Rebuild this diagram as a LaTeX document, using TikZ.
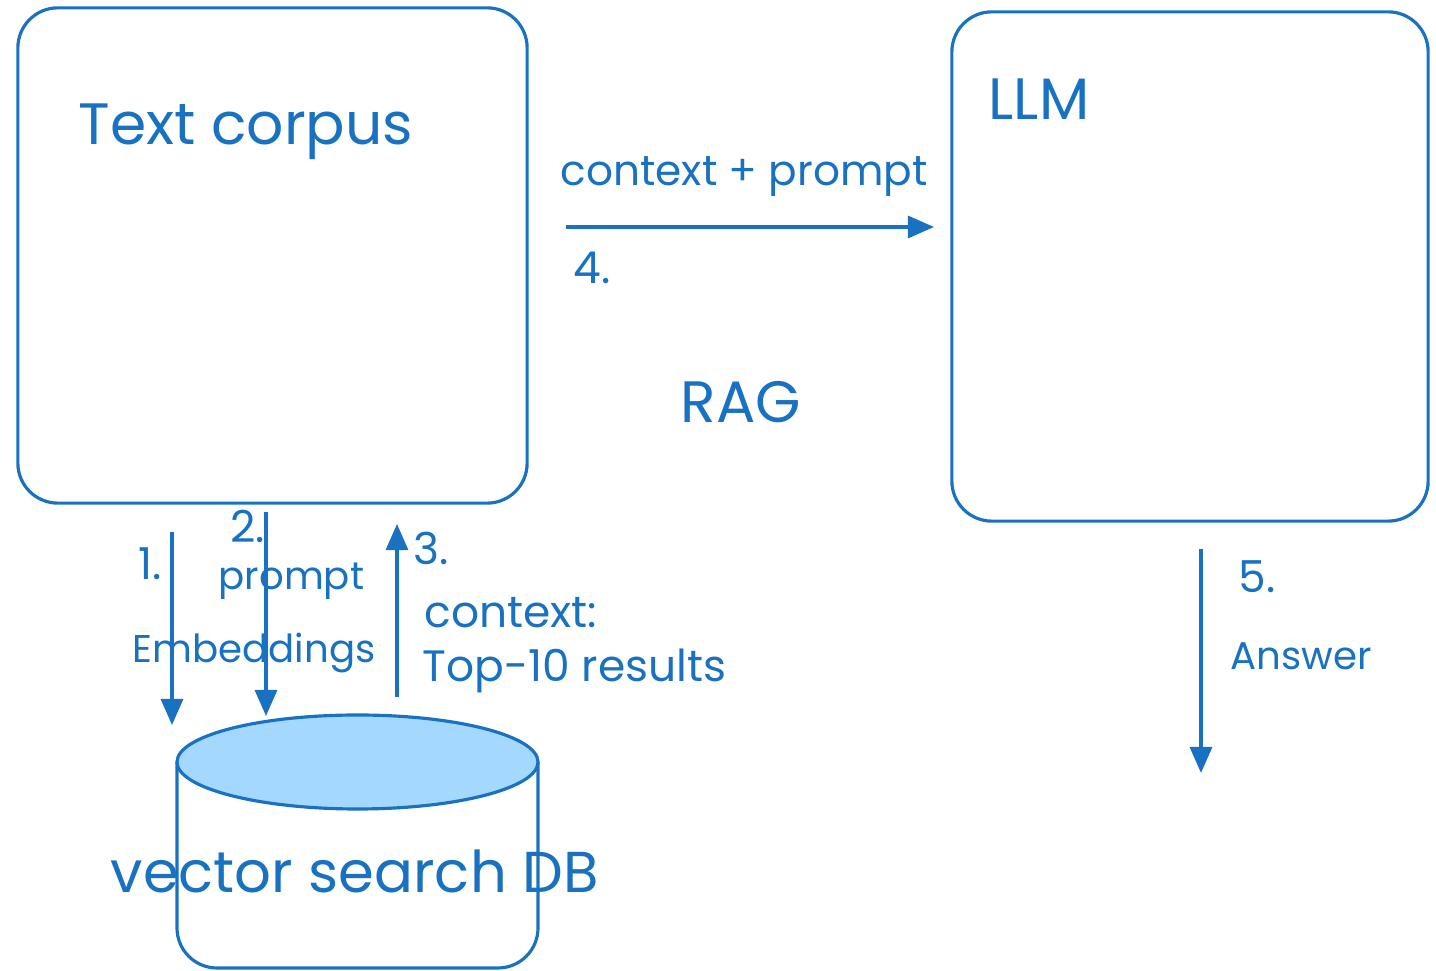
\documentclass[tikz,border=0pt]{standalone}
\usepackage{fontspec}
\setmainfont{Poppins}
\usetikzlibrary{positioning,arrows.meta}
\definecolor{sketchblue}{HTML}{1971C2}
\definecolor{dbfill}{HTML}{A5D8FF}

\begin{document}
\begin{tikzpicture}[
    x=0.01cm, y=-0.01cm,
    box/.style={
        rectangle, rounded corners=4mm,
        draw=sketchblue, line width=0.9pt
    },
    flow/.style={-{Triangle[length=2.6mm,width=2.2mm]}, sketchblue, line width=0.9pt},
    lbl/.style={text=sketchblue, inner sep=0pt, anchor=base west,
        font=\fontsize{12.5}{15}\selectfont},
    small/.style={font=\fontsize{11}{13}\selectfont},
    title/.style={text=sketchblue, inner sep=0pt, anchor=base west,
        font=\fontsize{16.6}{20}\selectfont}
]
\useasboundingbox (0,0) rectangle (1436,971);

% Boxes
\node[box, minimum width=5.09cm, minimum height=4.95cm] (corpus) at (272.5,255.5) {};
\node[box, minimum width=4.76cm, minimum height=5.09cm] (llm) at (1190,266.5) {};
\node[title] (corpustitle) at (78,145) {Text corpus};
\node[title] (llmtitle) at (988,120) {LLM};

% Vector DB
\draw[sketchblue, line width=0.9pt, rounded corners=4mm]
    (177,762) -- (177,968) -- (538,968) -- (538,762);
\draw[sketchblue, line width=0.9pt, fill=dbfill]
    (357.5,762) ellipse [x radius=180.5, y radius=47];
\node[title, font=\fontsize{16.4}{20}\selectfont] (db) at (110,893) {vector search DB};

\node[title] (rag) at (680,423) {RAG};

% Arrow ends
\coordinate (e1s) at (172,532);
\coordinate (e1e) at (172,725);
\coordinate (e2s) at (266,512);
\coordinate (e2e) at (266,716);
\coordinate (e3s) at (397,697);
\coordinate (e3e) at (397,524);
\coordinate (e4s) at (566,227);
\coordinate (e4e) at (934,227);
\coordinate (e5s) at (1201,549);
\coordinate (e5e) at (1201,773);

\draw[flow] (e1s) -- (e1e);
\draw[flow] (e2s) -- (e2e);
\draw[flow] (e3s) -- (e3e);
\draw[flow] (e4s) -- (e4e);
\draw[flow] (e5s) -- (e5e);

% Labels
\node[lbl] (n1) at (138,580) {1.};
\node[lbl] (n2) at (230,543) {2.};
\node[lbl, small] (qprompt) at (218,590) {prompt};
\node[lbl, small] (emb) at (132,663) {Embeddings};
\node[lbl] (n3) at (413,565) {3.};
\node[lbl] (ctx) at (424,628) {context:};
\node[lbl] (top) at (422,682) {Top-10 results};
\node[lbl, font=\fontsize{12}{14}\selectfont] (cp) at (560,186) {context + prompt};
\node[lbl] (n4) at (573,284) {4.};
\node[lbl] (n5) at (1238,593) {5.};
\node[lbl, small] (ans) at (1230,670) {Answer};

\end{tikzpicture}
\end{document}
